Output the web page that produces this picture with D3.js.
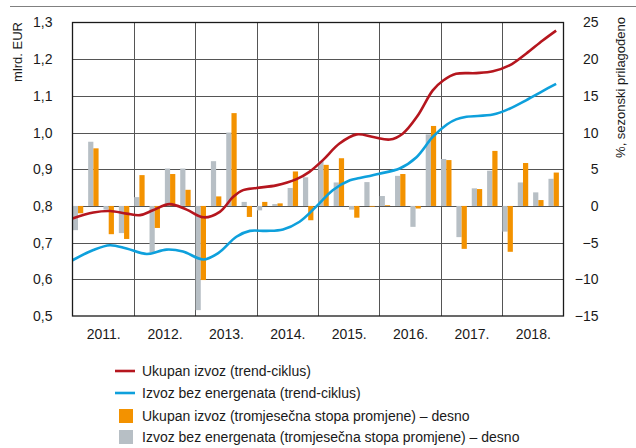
<!DOCTYPE html>
<html><head><meta charset="utf-8">
<script src="https://cdn.jsdelivr.net/npm/d3@7"></script>
<style>
html,body{margin:0;padding:0;background:#fff;}
svg text{font-family:"Liberation Sans",Arial,sans-serif;fill:#1a1a1a;}
</style></head>
<body>
<svg id="chart" width="636" height="448"></svg>
<script>
const years = ["2011.","2012.","2013.","2014.","2015.","2016.","2017.","2018."];
const quarters = [];
for (let y = 2011; y <= 2018; y++) for (let q = 1; q <= 4; q++) quarters.push(y + "Q" + q);

// quarterly rates of change, % (right axis)
const ukupanRate = [-1.0, 7.85, -3.85, -4.5,  4.2, -3.0, 4.35, 2.2,  -10.1, 1.3, 12.65, -1.5,
                    0.55, 0.35, 4.7, -1.95,  5.6, 6.5, -1.6, -0.1,  0.1, 4.35, -0.35, 10.9,
                    6.25, -5.85, 2.3, 7.5,  -6.25, 5.85, 0.8, 4.55];
const bezEnRate = [-3.3, 8.75, -0.5, -3.7,  1.2, -6.35, 5.1, 5.1,  -14.2, 6.1, 10.0, 0.55,
                   -0.6, 0.25, 2.45, 3.9,  6.1, 3.2, -0.5, 3.25,  1.35, 4.1, -2.85, 9.75,
                   6.4, -4.25, 2.4, 4.8,  -3.5, 3.2, 1.85, 3.7];

// trend-cycle, bn EUR (left axis): [time in years, value]
const ukupanTrend = [[2011.0,0.766],[2011.34,0.782],[2011.61,0.786],[2011.88,0.779],[2012.10,0.775],
  [2012.31,0.788],[2012.58,0.805],[2012.86,0.790],[2013.14,0.769],[2013.40,0.784],
  [2013.62,0.825],[2013.78,0.843],[2014.0,0.849],[2014.32,0.856],[2014.65,0.873],[2014.86,0.893],
  [2015.08,0.925],[2015.35,0.970],[2015.63,0.995],[2015.90,0.988],[2016.17,0.981],[2016.38,0.997],
  [2016.62,1.045],[2016.87,1.115],[2017.04,1.142],[2017.25,1.160],[2017.58,1.162],
  [2017.85,1.167],[2018.12,1.183],[2018.39,1.215],[2018.66,1.251],[2018.88,1.278]];
const bezEnTrend = [[2011.0,0.652],[2011.34,0.680],[2011.61,0.693],[2011.88,0.684],[2012.21,0.669],
  [2012.53,0.681],[2012.80,0.676],[2013.13,0.654],[2013.38,0.672],[2013.67,0.716],
  [2013.89,0.732],[2014.16,0.732],[2014.43,0.736],[2014.70,0.757],[2014.97,0.798],[2015.24,0.843],
  [2015.52,0.870],[2015.68,0.876],[2016.0,0.888],[2016.33,0.902],[2016.60,0.932],[2016.87,0.988],
  [2017.10,1.022],[2017.25,1.036],[2017.42,1.043],[2017.85,1.049],[2018.12,1.065],[2018.39,1.088],
  [2018.66,1.113],[2018.88,1.133]];

const leftTicks = [0.5,0.6,0.7,0.8,0.9,1.0,1.1,1.2,1.3];
const rightTicks = [-15,-10,-5,0,5,10,15,20,25];

const C = {red:"#b5161e", blue:"#0ea0dc", orange:"#f39200", grey:"#b7bfc5"};
const m = {l:72.5, r:563.5, t:22.5, b:316};

const svg = d3.select("#chart");
const xT = d3.scaleLinear().domain([2011, 2019]).range([m.l, m.r]);
const xQ = d3.scaleBand().domain(quarters).range([m.l, m.r]).padding(0);
const yL = d3.scaleLinear().domain([0.5, 1.3]).range([m.b, m.t]);
const yR = d3.scaleLinear().domain([-15, 25]).range([m.b, m.t]);

// top rule
svg.append("line").attr("x1",10).attr("x2",636).attr("y1",6.5).attr("y2",6.5)
  .attr("stroke","#808080").attr("stroke-width",1.2);

// grid
const g = svg.append("g");
g.selectAll("line.h").data(leftTicks.slice(1,-1)).join("line")
  .attr("x1",m.l).attr("x2",m.r).attr("y1",d=>Math.round(yL(d))+0.5).attr("y2",d=>Math.round(yL(d))+0.5)
  .attr("stroke","#555").attr("stroke-width",1);
g.selectAll("line.v").data(d3.range(2012,2019)).join("line")
  .attr("y1",m.t).attr("y2",m.b).attr("x1",d=>Math.round(xT(d))+0.5).attr("x2",d=>Math.round(xT(d))+0.5)
  .attr("stroke","#555").attr("stroke-width",1);

// bars
const bw = xQ.bandwidth();
const bars = svg.append("g");
bars.selectAll("rect.g").data(quarters).join("rect")
  .attr("x",(d)=>xQ(d)+bw*0.02).attr("width",bw*0.34)
  .attr("y",(d,i)=>yR(Math.max(0,bezEnRate[i]))).attr("height",(d,i)=>Math.abs(yR(bezEnRate[i])-yR(0)))
  .attr("fill",C.grey);
bars.selectAll("rect.o").data(quarters).join("rect")
  .attr("x",(d)=>xQ(d)+bw*0.36).attr("width",bw*0.34)
  .attr("y",(d,i)=>yR(Math.max(0,ukupanRate[i]))).attr("height",(d,i)=>Math.abs(yR(ukupanRate[i])-yR(0)))
  .attr("fill",C.orange);

// lines
const line = d3.line().x(d=>xT(d[0])).y(d=>yL(d[1])).curve(d3.curveCatmullRom.alpha(0.5));
svg.append("path").datum(bezEnTrend).attr("d",line).attr("fill","none").attr("stroke",C.blue).attr("stroke-width",2.6);
svg.append("path").datum(ukupanTrend).attr("d",line).attr("fill","none").attr("stroke",C.red).attr("stroke-width",2.6);

// frame
svg.append("rect").attr("x",m.l).attr("y",m.t).attr("width",m.r-m.l).attr("height",m.b-m.t)
  .attr("fill","none").attr("stroke","#1a1a1a").attr("stroke-width",1.3);

// axes
const fmtL = d => d3.format(".1f")(d).replace(".", ",");
const axL = svg.append("g").attr("transform",`translate(${m.l},0)`)
  .call(d3.axisLeft(yL).tickValues(leftTicks).tickFormat(fmtL).tickSize(0).tickPadding(20));
const axR = svg.append("g").attr("transform",`translate(${m.r},0)`)
  .call(d3.axisRight(yR).tickValues(rightTicks).tickFormat(d=>d<0?"\u2212"+Math.abs(d):d).tickSize(0).tickPadding(14));
axR.selectAll("text").attr("text-anchor","end").attr("dx","21");
const axB = svg.append("g").attr("transform",`translate(0,${m.b})`)
  .call(d3.axisBottom(xT).tickValues(d3.range(2011,2019).map(y=>y+0.5)).tickFormat((d,i)=>years[i]).tickSize(0).tickPadding(13));
[axL,axR,axB].forEach(a=>{a.select(".domain").remove(); a.selectAll("text").attr("font-size",14).attr("font-family",null).attr("fill","#1a1a1a");});

// axis titles
svg.append("text").attr("transform","translate(22,22) rotate(-90)").attr("text-anchor","end")
  .attr("font-size",13).text("mlrd. EUR");
svg.append("text").attr("transform","translate(625,17) rotate(-90)").attr("text-anchor","end")
  .attr("font-size",13).text("%, sezonski prilagođeno");

// legend
const leg = svg.append("g");
const items = [
  {t:"line", c:C.red, y:373, label:"Ukupan izvoz (trend-ciklus)"},
  {t:"line", c:C.blue, y:395, label:"Izvoz bez energenata (trend-ciklus)"},
  {t:"rect", c:C.orange, y:418, label:"Ukupan izvoz (tromjesečna stopa promjene) \u2013 desno"},
  {t:"rect", c:C.grey, y:439, label:"Izvoz bez energenata (tromjesečna stopa promjene) \u2013 desno"}
];
items.forEach(it=>{
  if (it.t==="line") leg.append("line").attr("x1",115).attr("x2",135).attr("y1",it.y-2).attr("y2",it.y-2).attr("stroke",it.c).attr("stroke-width",2.6);
  else leg.append("rect").attr("x",119).attr("y",it.y-9).attr("width",14).attr("height",14).attr("fill",it.c);
  leg.append("text").attr("x",142).attr("y",it.y+3).attr("font-size",14).text(it.label);
});
</script>
</body></html>
